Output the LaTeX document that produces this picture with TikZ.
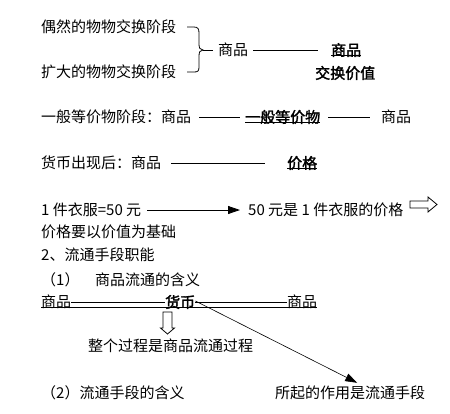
\documentclass[tikz,border=0pt]{standalone}
\usepackage{fontspec}
\setmainfont{Noto Sans CJK SC}[BoldFont={Noto Sans CJK SC},BoldFeatures={FakeBold=2}]
\usetikzlibrary{arrows.meta,calc,positioning}
\newcommand\fs{\fontsize{15}{18}\selectfont}
\tikzset{
  txt/.style={anchor=west,inner sep=0pt,font=\fs},
  bd/.style={txt,font=\fs\bfseries},
  ln/.style={line width=0.8pt},
  ul/.style={line width=0.7pt},
  hollow/.style={line width=0.8pt,fill=white}
}
\begin{document}
\begin{tikzpicture}[x=1pt,y=-1pt]
\useasboundingbox (0,0) rectangle (450,413);
% stages of exchange
\node[txt] (st1) at (41,27) {偶然的物物交换阶段};
\node[txt] (st2) at (41,72) {扩大的物物交换阶段};
\node[txt] (sp1) at (218,50) {商品};
\node[bd] (sp2) at (331,50) {商品};
\node[bd] (jz) at (315,73) {交换价值};
\draw[ln] (187,27) -- (194,27) .. controls (198,27) and (199,29) .. (199,33) -- (199,44)
  .. controls (199,48) and (200,50) .. (203,50) .. controls (200,50) and (199,52) .. (199,56)
  -- (199,67) .. controls (199,71) and (198,72) .. (194,72) -- (187,72);
\draw[ln] (203,50) -- ([xshift=-5pt]sp1.west);
\draw[ln] ([xshift=5pt]sp1.east) -- ([xshift=-13pt]sp2.west);
\draw[ul] ([yshift=1.5pt]sp2.south west) -- ([yshift=1.5pt]sp2.south east);
% general equivalent
\node[txt] (g1) at (41,117) {一般等价物阶段：商品};
\node[bd] (g2) at (245,117) {一般等价物};
\node[txt] (g3) at (381,117) {商品};
\draw[ln] ([xshift=8pt]g1.east) -- ([xshift=-5pt]g2.west);
\draw[ln] ([xshift=8pt]g2.east) -- ([xshift=-11pt]g3.west);
\draw[ul] ([yshift=1.5pt]g2.south west) -- ([yshift=1.5pt]g2.south east);
% money appears
\node[txt] (m1) at (41,163) {货币出现后：商品};
\node[bd] (m2) at (287,163) {价格};
\draw[ln] ([xshift=10pt]m1.east) -- ([xshift=-22pt]m2.west);
\draw[ul] ([yshift=1.5pt]m2.south west) -- ([yshift=1.5pt]m2.south east);
% price example
\node[txt] (p1) at (41,210) {1 件衣服=50 元};
\node[txt] (p2) at (248,210) {50 元是 1 件衣服的价格};
\draw[ln,-{Triangle[length=12pt,width=8pt]}] ([xshift=6pt]p1.east) -- ([xshift=-8pt]p2.west);
\draw[hollow] (410,201) -- (428,201) -- (428,197) -- (437,204.5) -- (428,212) -- (428,208)
  -- (410,208) -- cycle;
\node[txt] (p3) at (41,232) {价格要以价值为基础};
\node[txt] (h2) at (41,255) {2、流通手段职能};
\node[txt] (h3) at (41,280) {（1）};
\node[txt] (h4) at (95,280) {商品流通的含义};
% circulation
\node[txt] (c1) at (41,302) {商品};
\node[bd] (hb) at (165,302) {货币};
\node[txt] (c3) at (287,302) {商品};
\draw[ln] (c1.east) -- (hb.west);
\draw[ln] (hb.east) -- (c3.west);
\draw[ul] ([yshift=1.5pt]c1.south west) -- ([yshift=1.5pt]c3.south east);
\draw[hollow] (163,312) -- (172,312) -- (172,328) -- (174.5,328) -- (167.5,334) -- (160.5,328)
  -- (163,328) -- cycle;
\node[txt] (gc) at (88,346) {整个过程是商品流通过程};
\node[txt] (h5) at (41,393) {（2）流通手段的含义};
\node[txt] (zy) at (275,393) {所起的作用是流通手段};
\draw[line width=0.6pt,-{Triangle[length=12pt,width=8pt]}] ([yshift=1pt]hb.east) -- ([xshift=7pt,yshift=3pt]zy.north);
\end{tikzpicture}
\end{document}
